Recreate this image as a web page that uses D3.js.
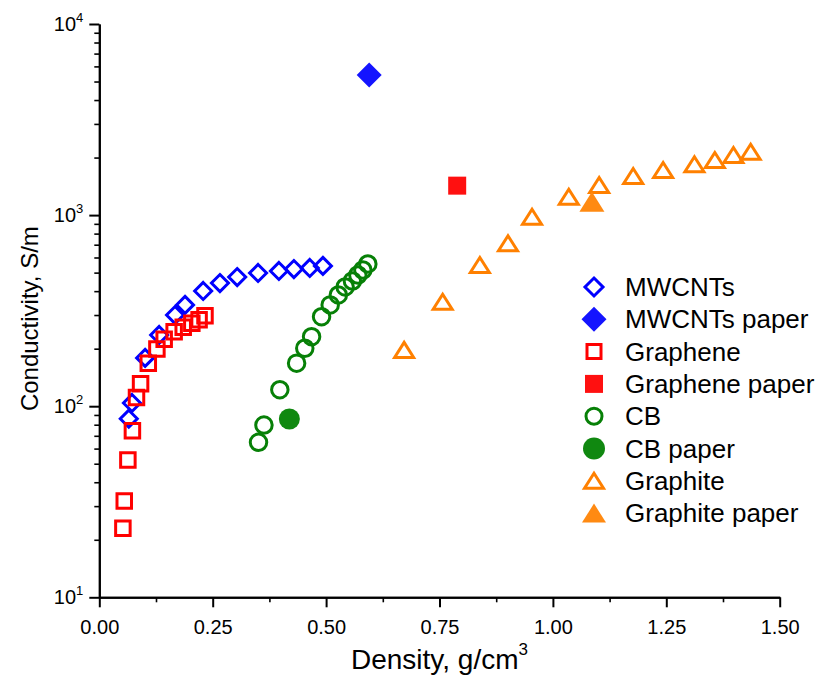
<!DOCTYPE html>
<html>
<head>
<meta charset="utf-8">
<script src="https://cdn.jsdelivr.net/npm/d3@7"></script>
<style>
  html, body { margin: 0; padding: 0; background: #fff; }
  svg { display: block; }
  text { font-family: "Liberation Sans", Arial, sans-serif; fill: #000; }
</style>
</head>
<body>
<svg id="chart" width="821" height="679"></svg>
<script>
// Density (g/cm3) and conductivity (S/m) per filler type
const mwcntDensity = [0.065, 0.072, 0.101, 0.132, 0.167, 0.189, 0.229, 0.266, 0.304, 0.350, 0.396, 0.429, 0.464, 0.493];
const mwcntCond    = [86, 104, 179, 236, 300, 339, 401, 441, 474, 498, 510, 522, 529, 542];
const mwcntPaperDensity = [0.595];
const mwcntPaperCond    = [5410];

const grapheneDensity = [0.052, 0.055, 0.063, 0.073, 0.082, 0.091, 0.108, 0.127, 0.143, 0.165, 0.185, 0.204, 0.220, 0.233];
const grapheneCond    = [23.0, 31.9, 52.3, 74.4, 111, 131, 168, 199, 224, 245, 259, 272, 283, 297];
const graphenePaperDensity = [0.789];
const graphenePaperCond    = [1426];

const cbDensity = [0.351, 0.363, 0.398, 0.435, 0.453, 0.468, 0.490, 0.509, 0.527, 0.542, 0.558, 0.570, 0.581, 0.592];
const cbCond    = [64.7, 79.7, 122, 168, 201, 231, 294, 339, 382, 421, 452, 486, 516, 555];
const cbPaperDensity = [0.419];
const cbPaperCond    = [85.7];

const graphiteDensity = [0.672, 0.757, 0.839, 0.901, 0.954, 1.035, 1.102, 1.177, 1.243, 1.312, 1.357, 1.398, 1.436];
const graphiteCond    = [197, 352, 548, 712, 981, 1248, 1438, 1602, 1722, 1845, 1943, 2064, 2146];
const graphitePaperDensity = [1.086];
const graphitePaperCond    = [1175];

const xTickValues = [0, 0.25, 0.5, 0.75, 1.0, 1.25, 1.5];
const xTickLabels = ["0.00", "0.25", "0.50", "0.75", "1.00", "1.25", "1.50"];
const yTickValues = [10, 100, 1000, 10000];
const yTickExponents = ["1", "2", "3", "4"];

const seriesNames = ["MWCNTs", "MWCNTs paper", "Graphene", "Graphene paper", "CB", "CB paper", "Graphite", "Graphite paper"];

// Marker shapes: open/filled diamond, square, circle, triangle
function diamondPath(s) { const h = s / 2; return `M0,${-h}L${h},0L0,${h}L${-h},0Z`; }
function squarePath(s) { const h = s / 2; return `M${-h},${-h}H${h}V${h}H${-h}Z`; }
function circlePath(d) { const r = d / 2; return `M${r},0A${r},${r} 0 1,1 ${-r},0A${r},${r} 0 1,1 ${r},0Z`; }
function trianglePath(w, h) { return `M0,${-h / 2}L${w / 2},${h / 2}L${-w / 2},${h / 2}Z`; }

const series = [
  { name: seriesNames[0], xs: mwcntDensity, ys: mwcntCond, color: "#0000ff", filled: false, path: diamondPath(17), legendPath: diamondPath(18) },
  { name: seriesNames[1], xs: mwcntPaperDensity, ys: mwcntPaperCond, color: "#1414ff", filled: true, path: diamondPath(25), legendPath: diamondPath(25) },
  { name: seriesNames[2], xs: grapheneDensity, ys: grapheneCond, color: "#ff0000", filled: false, path: squarePath(14.5), legendPath: squarePath(14) },
  { name: seriesNames[3], xs: graphenePaperDensity, ys: graphenePaperCond, color: "#ff1010", filled: true, path: squarePath(18), legendPath: squarePath(18) },
  { name: seriesNames[4], xs: cbDensity, ys: cbCond, color: "#078007", filled: false, path: circlePath(16.5), legendPath: circlePath(16) },
  { name: seriesNames[5], xs: cbPaperDensity, ys: cbPaperCond, color: "#108810", filled: true, path: circlePath(21), legendPath: circlePath(22) },
  { name: seriesNames[6], xs: graphiteDensity, ys: graphiteCond, color: "#ff8000", filled: false, path: trianglePath(19, 15), legendPath: trianglePath(19, 15) },
  { name: seriesNames[7], xs: graphitePaperDensity, ys: graphitePaperCond, color: "#ff8a12", filled: true, path: trianglePath(25, 20), legendPath: trianglePath(24, 19) }
];

const svg = d3.select("#chart");
const x = d3.scaleLinear().domain([0, 1.5]).range([99.3, 779.7]);
const y = d3.scaleLog().domain([10, 10000]).range([597.3, 24]);

const axisColor = "#000";

// X axis: major and minor ticks (outside)
const xMinor = d3.range(0.125, 1.5, 0.25);
const gxMinor = svg.append("g").attr("transform", `translate(0,${y(10)})`)
  .call(d3.axisBottom(x).tickValues(xMinor).tickSize(5).tickSizeOuter(0).tickFormat(""));
const gx = svg.append("g").attr("transform", `translate(0,${y(10)})`)
  .call(d3.axisBottom(x).tickValues(xTickValues).tickSize(10).tickSizeOuter(0).tickFormat((d, i) => xTickLabels[i]));
gx.selectAll(".tick text").attr("dy", 0).attr("y", 37)
  .style("font-size", "20px").style("font-family", "'Liberation Sans', Arial, sans-serif");

// Y axis: log decades with minor ticks 2..9
const yMinor = [];
for (let dec = 10; dec < 10000; dec *= 10) for (let k = 2; k <= 9; k++) yMinor.push(dec * k);
const gyMinor = svg.append("g").attr("transform", `translate(${x(0)},0)`)
  .call(d3.axisLeft(y).tickValues(yMinor).tickSize(5).tickSizeOuter(0).tickFormat(""));
const gy = svg.append("g").attr("transform", `translate(${x(0)},0)`)
  .call(d3.axisLeft(y).tickValues(yTickValues).tickSize(10).tickSizeOuter(0).tickFormat(""));

[gx, gy, gxMinor, gyMinor].forEach(g => {
  g.select(".domain").attr("stroke", axisColor).attr("stroke-width", 2);
  g.selectAll(".tick line").attr("stroke", axisColor).attr("stroke-width", 2);
});
gxMinor.selectAll(".tick line").attr("stroke-width", 1.6);
gyMinor.selectAll(".tick line").attr("stroke-width", 1.6);

// Power-of-ten labels with superscript exponents
const yLabels = svg.append("g");
yTickValues.forEach((v, i) => {
  const t = yLabels.append("text")
    .attr("x", x(0) - 16).attr("y", y(v) + 7)
    .attr("text-anchor", "end")
    .style("font-size", "20px");
  t.append("tspan").text("10");
  t.append("tspan").attr("dy", -9).style("font-size", "13px").text(yTickExponents[i]);
});

// Axis titles
const xt = svg.append("text")
  .attr("x", (x(0) + x(1.5)) / 2).attr("y", 669)
  .attr("text-anchor", "middle").style("font-size", "28px");
xt.append("tspan").text("Density, g/cm");
xt.append("tspan").attr("dy", -14).style("font-size", "17px").text("3");

svg.append("text")
  .attr("transform", `translate(38,${(y(10) + y(10000)) / 2 + 8}) rotate(-90)`)
  .attr("text-anchor", "middle").style("font-size", "24px")
  .text("Conductivity, S/m");

// Data markers
const marks = svg.append("g");
series.forEach(s => {
  const pts = s.xs.map((d, i) => [d, s.ys[i]]);
  marks.append("g").selectAll("path").data(pts).join("path")
    .attr("transform", d => `translate(${x(d[0])},${y(d[1])})`)
    .attr("d", s.path)
    .attr("fill", s.filled ? s.color : "none")
    .attr("stroke", s.filled ? "none" : s.color)
    .attr("stroke-width", s.filled ? 0 : 3)
    .attr("stroke-linejoin", "miter");
});

// Legend
const legend = svg.append("g").attr("transform", "translate(594,287)");
series.forEach((s, i) => {
  const row = legend.append("g").attr("transform", `translate(0,${i * 32.3})`);
  row.append("path")
    .attr("d", s.legendPath)
    .attr("fill", s.filled ? s.color : "none")
    .attr("stroke", s.filled ? "none" : s.color)
    .attr("stroke-width", s.filled ? 0 : 3);
  row.append("text").attr("x", 31).attr("y", 9)
    .style("font-size", "26px").text(s.name);
});
</script>
</body>
</html>
